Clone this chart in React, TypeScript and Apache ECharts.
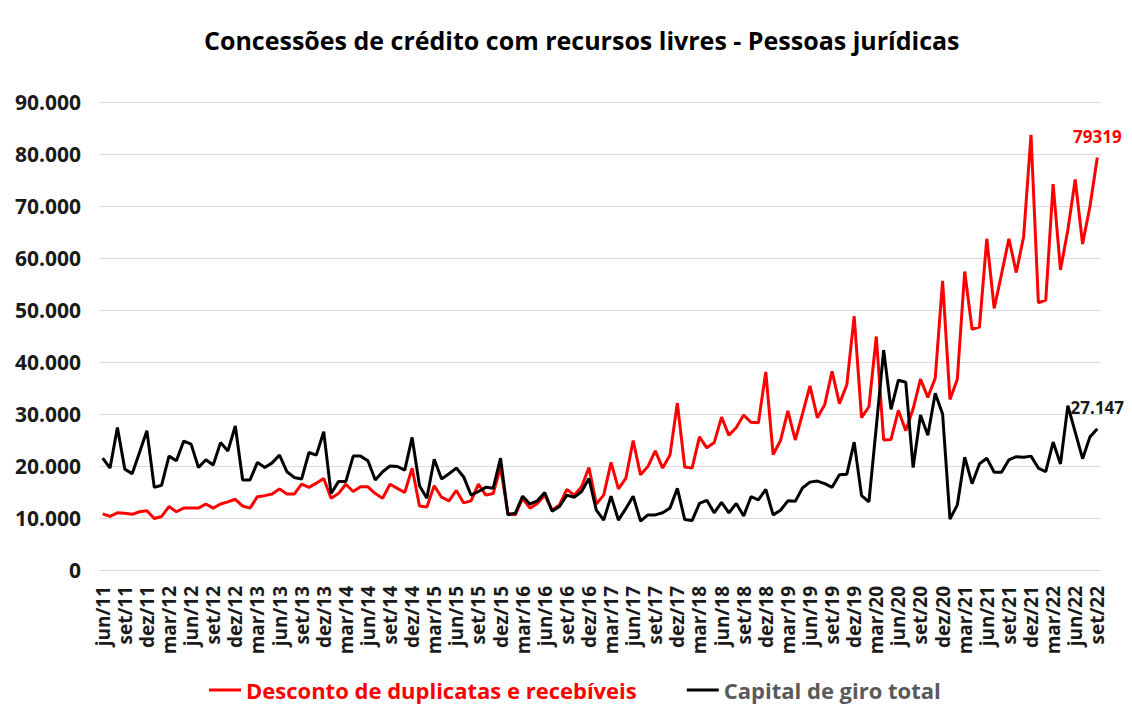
import React, { useEffect, useRef } from "react";
import * as echarts from "echarts";

const monthNames = ["jan", "fev", "mar", "abr", "mai", "jun", "jul", "ago", "set", "out", "nov", "dez"];
const categories: string[] = [];
for (let y = 2011; y <= 2022; y++) {
  for (let m = 0; m < 12; m++) {
    if ((y === 2011 && m < 5) || (y === 2022 && m > 8)) continue;
    categories.push(`${monthNames[m]}/${String(y).slice(2)}`);
  }
}

const seriesNames = ["Desconto de duplicatas e recebíveis", "Capital de giro total"];

const desconto = [
  10800, 10300, 11000, 10900, 10700, 11200, 11400, 9900, 10300, 12200,
  11200, 11900, 11900, 11900, 12700, 11900, 12700, 13100, 13600, 12300,
  11900, 14100, 14300, 14600, 15600, 14600, 14600, 16500, 15900, 16700,
  17600, 13800, 14700, 16500, 15100, 16000, 16000, 14700, 13800, 16500,
  15700, 14900, 19600, 12300, 12100, 16200, 14000, 13300, 15300, 12900,
  13300, 16500, 14400, 14700, 19800, 10900, 10600, 13800, 11900, 12800,
  14400, 11500, 12500, 15500, 14400, 16000, 19700, 12700, 14400, 20700,
  15600, 17600, 24900, 18300, 19900, 22900, 19600, 22100, 32100, 19800,
  19600, 25600, 23500, 24500, 29400, 25900, 27400, 29800, 28400, 28300,
  38100, 22200, 24900, 30600, 25000, 30100, 35400, 29300, 31800, 38200,
  32000, 35600, 48800, 29300, 31400, 44900, 25000, 25100, 30700, 26800,
  31000, 36700, 33200, 36900, 55600, 32800, 36700, 57400, 46300, 46700,
  63700, 50300, 56900, 63700, 57200, 64100, 83700, 51400, 51900, 74200,
  57700, 65400, 75100, 62700, 69900, 79319,
];

const capitalGiro = [
  21500, 19600, 27400, 19400, 18500, 22600, 26800, 15900, 16300, 21900,
  21000, 24800, 24200, 19700, 21200, 20200, 24500, 22900, 27700, 17300,
  17300, 20700, 19700, 20600, 22100, 18900, 17800, 17500, 22600, 22100,
  26600, 14700, 17000, 17000, 21900, 21900, 21000, 17300, 18900, 20000,
  19900, 19200, 25500, 16200, 13800, 21300, 17500, 18500, 19600, 17900,
  14400, 15100, 15900, 15700, 21500, 10600, 10900, 14200, 12700, 13300,
  14900, 11300, 12200, 14400, 14000, 15100, 17600, 11500, 9600, 14200,
  9600, 11800, 14200, 9400, 10600, 10600, 11000, 11900, 15700, 9700,
  9500, 12800, 13400, 11000, 13000, 11000, 12800, 10400, 14100, 13500,
  15500, 10600, 11500, 13300, 13200, 15800, 16900, 17100, 16600, 15900,
  18300, 18400, 24600, 14300, 13100, 27500, 42300, 30900, 36500, 36100,
  19700, 29800, 25900, 34000, 30000, 9800, 12500, 21700, 16600, 20400,
  21500, 18800, 18800, 21200, 21800, 21700, 21900, 19600, 18900, 24600,
  20400, 31600, 26500, 21400, 25600, 27147,
];

const FONT = "'Open Sans', sans-serif";

function fmtBR(v: number): string {
  return String(v).replace(/\B(?=(\d{3})+(?!\d))/g, ".");
}

function endPoint(values: number[], text: string, color: string) {
  const last = values.length - 1;
  return {
    symbol: "circle",
    symbolSize: 1,
    itemStyle: { color: "rgba(0,0,0,0)" },
    label: {
      show: true,
      position: "top",
      distance: 12,
      formatter: text,
      color,
      fontWeight: "bold",
      fontSize: 17,
      fontFamily: FONT,
    },
    data: [{ coord: [last, values[last]] }],
  };
}

export default function App() {
  const ref = useRef<HTMLDivElement>(null);
  useEffect(() => {
    if (!ref.current) return;
    const chart = echarts.init(ref.current, undefined, { renderer: "svg" });
    const last = desconto.length - 1;
    chart.setOption({
      animation: false,
      backgroundColor: "#ffffff",
      title: {
        text: "Concessões de crédito com recursos livres - Pessoas jurídicas",
        left: 199,
        top: 22,
        textStyle: { fontFamily: FONT, fontWeight: "bold", fontSize: 25, color: "#000000" },
      },
      legend: {
        bottom: 4,
        left: 204,
        icon: "rect",
        itemWidth: 32,
        itemHeight: 3,
        itemGap: 50,
        textStyle: { fontFamily: FONT, fontWeight: "bold", fontSize: 22 },
        data: [
          { name: seriesNames[0], textStyle: { color: "#ff0000" } },
          { name: seriesNames[1], textStyle: { color: "#595959" } },
        ],
      },
      grid: { left: 99, right: 31, top: 102, bottom: 140 },
      xAxis: {
        type: "category",
        data: categories,
        boundaryGap: true,
        axisLine: { show: true, lineStyle: { color: "#d9d9d9", width: 1 } },
        axisTick: { show: false },
        axisLabel: {
          interval: 2,
          rotate: 90,
          margin: 16,
          fontFamily: FONT,
          fontWeight: "bold",
          fontSize: 19,
          color: "#1a1a1a",
        },
      },
      yAxis: {
        type: "value",
        min: 0,
        max: 90000,
        interval: 10000,
        axisLine: { show: false },
        axisTick: { show: false },
        splitLine: { lineStyle: { color: "#d9d9d9", width: 1 } },
        axisLabel: {
          margin: 18,
          fontFamily: FONT,
          fontWeight: "bold",
          fontSize: 21,
          color: "#1a1a1a",
          formatter: (v: number) => fmtBR(v),
        },
      },
      series: [
        {
          name: seriesNames[0],
          type: "line",
          data: desconto,
          showSymbol: false,
          symbol: "none",
          lineStyle: { color: "#ff0000", width: 3 },
          itemStyle: { color: "#ff0000" },
          markPoint: endPoint(desconto, String(desconto[last]), "#ff0000"),
          z: 2,
        },
        {
          name: seriesNames[1],
          type: "line",
          data: capitalGiro,
          showSymbol: false,
          symbol: "none",
          lineStyle: { color: "#000000", width: 3 },
          itemStyle: { color: "#000000" },
          markPoint: endPoint(capitalGiro, fmtBR(capitalGiro[last]), "#1a1a1a"),
          z: 3,
        },
      ],
    });
    return () => chart.dispose();
  }, []);
  return (
    <div
      ref={ref}
      style={{ position: "absolute", left: 0, top: 0, width: 1132, height: 710 }}
    />
  );
}
